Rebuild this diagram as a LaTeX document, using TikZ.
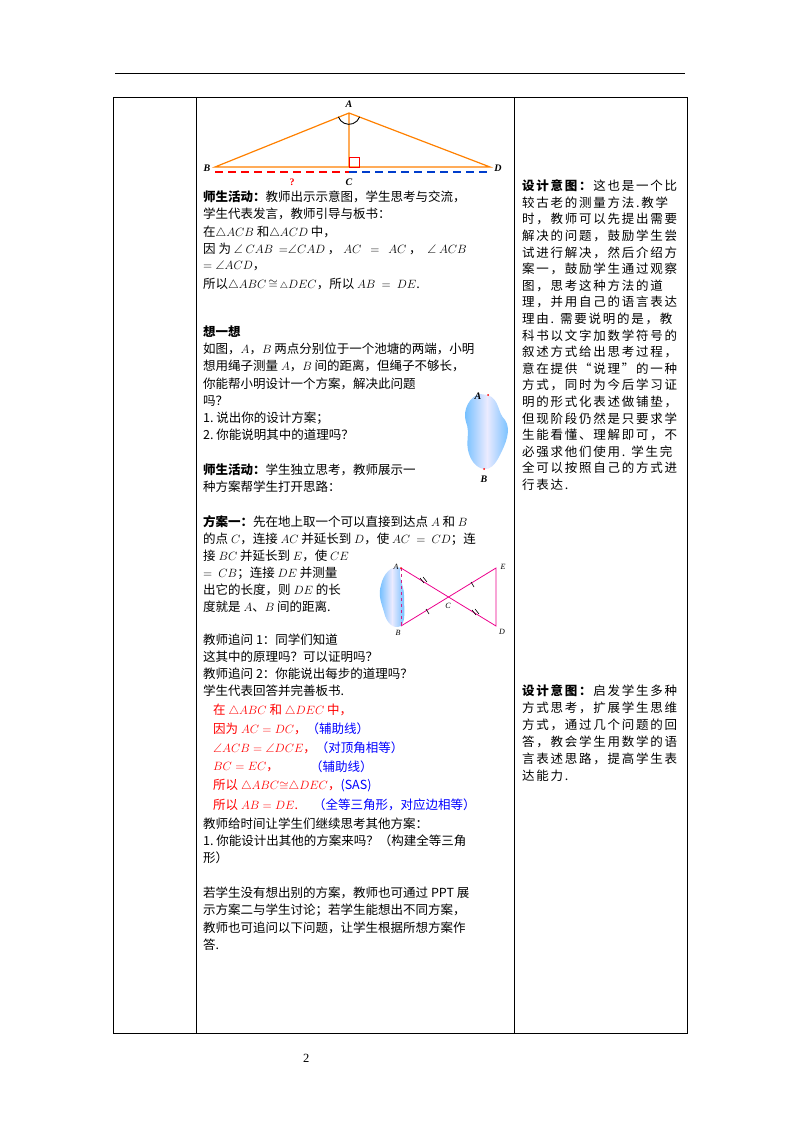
\documentclass[tikz,border=0pt]{standalone}
\usepackage{fontspec}
\setmainfont{Noto Sans CJK SC}
\usepackage{amssymb}
\newfontfamily\lat{Liberation Serif}
\begin{document}
\begin{tikzpicture}[x=1pt,y=-1pt,
  t/.style={anchor=west,inner sep=0pt,font=\fontsize{12.5}{14}\selectfont},
  r/.style={t,font=\fontsize{12.5}{14}\selectfont\addfontfeature{LetterSpace=14}},
  lab/.style={inner sep=0pt,font=\fontsize{10}{11}\selectfont\bfseries\itshape\lat},
  sl/.style={lab,font=\fontsize{8}{9}\selectfont\itshape\lat},
  pond/.style={left color=blue!45!cyan!60,right color=blue!45!cyan!60,middle color=blue!8,shading angle=90}]
\useasboundingbox (0,0) rectangle (800,1132);
\draw[line width=0.6pt] (115,73) -- (685,73);
\draw[line width=0.8pt] (113,97) rectangle (687,1033);
\draw[line width=0.8pt] (196,97) -- (196,1033) (514,97) -- (514,1033);
\node[t] (pg) at (303,1058) {\lat 2};
% figure 1
\coordinate (A) at (349,113); \coordinate (B) at (215,167);
\coordinate (C) at (349,167); \coordinate (D) at (490,167);
\draw[orange,line width=1.2pt] (B) -- (A) -- (D) -- cycle (A) -- (C);
\draw[red,line width=0.8pt] (349,167) rectangle (359,157);
\draw[line width=0.9pt] (338.4,116.9) arc[start angle=160,end angle=20,radius=11.3];
\draw[red,dash pattern=on 8pt off 5pt,line width=1.5pt] (215,172) -- (349,172);
\draw[blue!70!cyan!80!black,dash pattern=on 8pt off 5pt,line width=1.5pt] (349,172) -- (490,172);
\node[lab] (lA) at (349,104) {A}; \node[lab] (lB) at (207,168) {B};
\node[lab] (lC) at (349,182) {C}; \node[lab] (lD) at (498,168) {D};
\node[lab,red,font=\fontsize{10}{11}\selectfont\bfseries\lat] (q) at (292,182) {?};
% left texts
\node[t] at (203,197) {\textbf{师生活动：}教师出示示意图，学生思考与交流，};
\node[t] at (203,214) {学生代表发言，教师引导与板书：};
\node[t] at (203,232) {在$\triangle ACB$ 和$\triangle ACD$ 中，};
\node[t] at (203,249) {因\ 为\ $\angle\ CAB\ \ {=}\angle CAD$\ ，\ $AC\ \ =\ \ AC$\ ，\ \ $\angle\ ACB$};
\node[t] at (203,266) {$=\angle ACD$，};
\node[t] at (203,284) {所以$\triangle ABC\,{\cong}\,{\scriptstyle\triangle} DEC$，所以 $AB\ =\ DE$.};
\node[t] at (203,332) {\textbf{想一想}};
\node[t] at (203,349) {如图，$A$，$B$ 两点分别位于一个池塘的两端，小明};
\node[t] at (203,366) {想用绳子测量 $A$，$B$ 间的距离，但绳子不够长，};
\node[t] at (203,384) {你能帮小明设计一个方案，解决此问题};
\node[t] at (203,401) {吗？};
\node[t] at (203,418) {1.\ 说出你的设计方案；};
\node[t] at (203,435) {2.\ 你能说明其中的道理吗？};
\node[t] at (203,470) {\textbf{师生活动：}学生独立思考，教师展示一};
\node[t] at (203,487) {种方案帮学生打开思路：};
\node[t] at (203,522) {\textbf{方案一：}先在地上取一个可以直接到达点 $A$ 和 $B$};
\node[t] at (203,539) {的点 $C$，连接 $AC$ 并延长到 $D$，使 $AC\ =\ CD$；连};
\node[t] at (203,556) {接 $BC$ 并延长到 $E$，使 $CE$};
\node[t] at (203,573) {$=\ CB$；连接 $DE$\ 并测量};
\node[t] at (203,590) {出它的长度，则 $DE$ 的长};
\node[t] at (203,607) {度就是 $A$、$B$ 间的距离.};
\node[t] at (203,640) {教师追问 1：同学们知道};
\node[t] at (203,657) {这其中的原理吗？可以证明吗？};
\node[t] at (203,674) {教师追问 2：你能说出每步的道理吗？};
\node[t] at (203,691) {学生代表回答并完善板书.};
\begin{scope}[every node/.append style={red}]
\node[t] at (213,710) {在 $\triangle ABC$ 和 $\triangle DEC$ 中，};
\node[t] at (213,729) {因为 $AC=DC$，\textcolor{blue}{（辅助线）}};
\node[t] at (213,748) {$\angle ACB=\angle DCE$，\textcolor{blue}{（对顶角相等）}};
\node[t] at (213,767) {$BC=EC$，};
\node[t,blue] at (310,767) {（辅助线）};
\node[t] at (213,786) {所以 $\triangle ABC{\cong}\triangle DEC$，\textcolor{blue}{(SAS)}};
\node[t] at (213,805) {所以 $AB=DE$.};
\node[t,blue] at (313,805) {（全等三角形，对应边相等）};
\end{scope}
\node[t] at (203,824) {教师给时间让学生们继续思考其他方案：};
\node[t] at (203,841) {1.\ 你能设计出其他的方案来吗？（构建全等三角};
\node[t] at (203,858) {形）};
\node[t] at (203,893) {若学生没有想出别的方案，教师也可通过 PPT 展};
\node[t] at (203,910) {示方案二与学生讨论；若学生能想出不同方案，};
\node[t] at (203,928) {教师也可追问以下问题，让学生根据所想方案作};
\node[t] at (203,945) {答.};
% pond 1
\shade[pond] (488,395) .. controls (500,400) and (497,412) .. (505,420)
  .. controls (512,430) and (505,445) .. (500,455) .. controls (495,465) and (490,470) .. (484,469)
  .. controls (476,468) and (470,460) .. (468,450) .. controls (466,440) and (470,432) .. (466,422)
  .. controls (462,410) and (470,396) .. (480,394) -- cycle;
\fill[red] (488,395) circle (1pt) (484,469) circle (1pt);
\node[lab] (pA) at (478,396) {A}; \node[lab] (pB) at (484,479) {B};
% pond 2
\shade[pond] (401,568) .. controls (397,575) and (404,585) .. (404,595)
  .. controls (404,610) and (406,620) .. (401,626) .. controls (393,630) and (386,622) .. (384,612)
  .. controls (381,602) and (378,595) .. (381,585) .. controls (383,575) and (391,564) .. (401,568) -- cycle;
\coordinate (A2) at (401,568); \coordinate (B2) at (401,626);
\coordinate (D2) at (496,626); \coordinate (E2) at (496,568);
\draw[magenta,line width=0.8pt] (A2) -- (D2) -- (E2) -- (B2);
\draw[magenta!70!violet,dashed,line width=1pt] (A2) -- (B2);
\fill[red] (A2) circle (1pt);
\node[sl] (a2) at (396,567) {A};
\node[sl] (b2) at (398,633) {B};
\node[sl] (c2) at (448,606) {C};
\node[sl] (d2) at (502,632) {D};
\node[sl] (e2) at (503,567) {E};
\draw[line width=0.6pt] (420,578)--(424,583) (423,577)--(427,582);
\draw[line width=0.6pt] (472,610)--(476,615) (475,609)--(479,614);
\draw[line width=0.6pt] (426,609)--(429,614);
\draw[line width=0.6pt] (471,582)--(474,587);
% right column
\node[r] at (522,186) {\textbf{设计意图：}这也是一个比};
\foreach \s [count=\i] in {较古老的测量方法.教学,时，教师可以先提出需要,解决的问题，鼓励学生尝,试进行解决，然后介绍方,案一，鼓励学生通过观察,图，思考这种方法的道,理，并用自己的语言表达,理由. 需要说明的是，教,科书以文字加数学符号的,叙述方式给出思考过程，,意在提供“说理”的一种,方式，同时为今后学习证,明的形式化表述做铺垫，,但现阶段仍然是只要求学,生能看懂、理解即可，不,必强求他们使用. 学生完,全可以按照自己的方式进,行表达.}
  \node[r] at (522,186+16.6*\i) {\s};
\node[r] at (522,691) {\textbf{设计意图：}启发学生多种};
\foreach \s [count=\i] in {方式思考，扩展学生思维,方式，通过几个问题的回,答，教会学生用数学的语,言表述思路，提高学生表,达能力.}
  \node[r] at (522,691+17*\i) {\s};
\end{tikzpicture}
\end{document}
